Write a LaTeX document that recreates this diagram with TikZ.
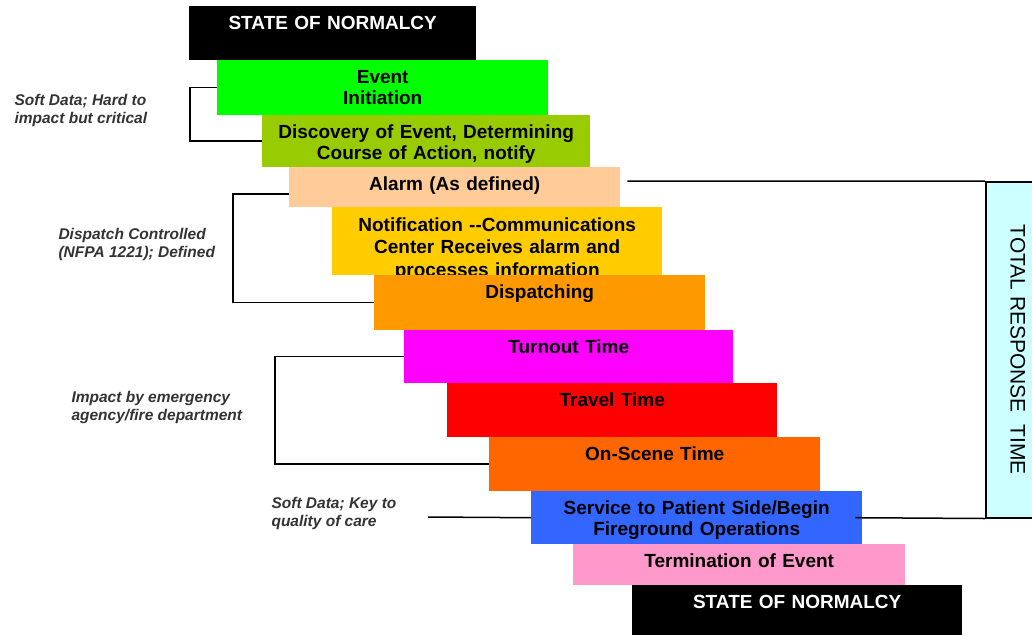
\documentclass[tikz,border=0pt]{standalone}
\usepackage{fontspec}
\setmainfont{Liberation Sans}
\definecolor{initgreen}{HTML}{00FF00}
\definecolor{discgreen}{HTML}{99CC00}
\definecolor{alarmpeach}{HTML}{FFCC99}
\definecolor{notifygold}{HTML}{FFCC00}
\definecolor{dispatchorange}{HTML}{FF9900}
\definecolor{turnoutmagenta}{HTML}{FF00FF}
\definecolor{travelred}{HTML}{FF0000}
\definecolor{sceneorange}{HTML}{FF6600}
\definecolor{serviceblue}{HTML}{3366FF}
\definecolor{endpink}{HTML}{FF99CC}
\definecolor{totalcyan}{HTML}{CCFFFF}

\begin{document}
\begin{tikzpicture}[x=1pt, y=-1pt,
    stepbox/.style={anchor=north west, inner sep=0pt, text width=330pt, align=center,
        text height=23pt, font=\fontsize{19}{21}\selectfont\bfseries},
    note/.style={anchor=west, align=left, text=black!80,
        font=\fontsize{15.5}{18}\selectfont\bfseries\itshape},
    link/.style={line width=1.5pt}]
    \useasboundingbox (0,0) rectangle (1032,635);

    % Steps
    \node[stepbox, fill=black, text=white, text width=287pt, text depth=31pt] (normaltop) at (189,6) {STATE OF NORMALCY};
    \node[stepbox, fill=initgreen, text width=331pt, text depth=32pt] (init) at (217,60) {Event\\Initiation};
    \node[stepbox, fill=discgreen, text width=328pt, text depth=29pt] (disc) at (262,115) {Discovery of Event, Determining\\Course of Action, notify};
    \node[stepbox, fill=alarmpeach, text width=331pt, text depth=17pt] (alarm) at (289,167) {Alarm (As defined)};
    \node[stepbox, fill=notifygold, text height=24pt, text depth=44pt, font=\fontsize{19}{22.5}\selectfont\bfseries] (notify) at (332,207) {Notification -{}-Communications\\Center Receives alarm and\\processes information};
    \node[stepbox, fill=dispatchorange, text width=331pt, text depth=32pt] (dispatch) at (374,275) {Dispatching};
    \node[stepbox, fill=turnoutmagenta, text width=329pt, text depth=30pt] (turnout) at (404,330) {Turnout Time};
    \node[stepbox, fill=travelred, text depth=31pt] (travel) at (447,383) {Travel Time};
    \node[stepbox, fill=sceneorange, text width=331pt, text depth=31pt] (onscene) at (489,437) {On-Scene Time};
    \node[stepbox, fill=serviceblue, text width=331pt, text depth=30pt] (service) at (531,491) {Service to Patient Side/Begin\\Fireground Operations};
    \node[stepbox, fill=endpink, text width=332pt, text depth=18pt] (termination) at (573,544) {Termination of Event};
    \node[stepbox, fill=black, text=white, text depth=27pt] (normalend) at (632,585) {STATE OF NORMALCY};

    % Notes
    \node[note] (softnote) at (11,110) {Soft Data; Hard to\\impact but critical};
    \node[note] (dispatchnote) at (55,244) {Dispatch Controlled\\(NFPA 1221); Defined};
    \node[note] (agencynote) at (68,407) {Impact by emergency\\agency/fire department};
    \node[note] (carenote) at (268,513) {Soft Data; Key to\\quality of care};

    % Total response time
    \node[draw, fill=totalcyan, line width=1.5pt, inner sep=0pt, anchor=north west,
        minimum width=64pt, minimum height=336pt, font=\fontsize{21}{21}\selectfont] (total) at (985,181)
        {\rotatebox{-90}{TOTAL RESPONSE\ \ TIME}};

    % Brackets
    \draw[link] (init.west) -- ++(-27,0) |- (disc.west);
    \draw[link] ([yshift=-7pt]alarm.west) -- ++(-56,0) |- (dispatch.west);
    \draw[link] (turnout.west) -- ++(-129,0) |- (onscene.west);
    \coordinate (carestart) at (428,517);
    \draw[link] (carestart) -- (service.west);
    \draw[link] ([shift={(7,-6)}]alarm.east) -- (total.north west);
    \draw[link] ([xshift=-7pt]service.east) -- (total.south west);
\end{tikzpicture}
\end{document}
